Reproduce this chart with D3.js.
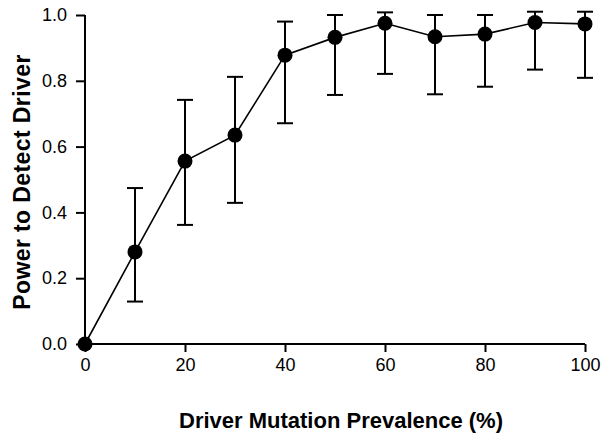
<!DOCTYPE html>
<html>
<head>
<meta charset="utf-8">
<script src="https://cdn.jsdelivr.net/npm/d3@7"></script>
<style>
  body { margin: 0; background: #fff; }
  svg text { font-family: "Liberation Sans", Arial, sans-serif; fill: #000; }
</style>
</head>
<body>
<svg width="602" height="434"></svg>
<script>
const prevalence = [0, 10, 20, 30, 40, 50, 60, 70, 80, 90, 100];
const power = [0, 0.28, 0.556, 0.635, 0.878, 0.932, 0.975, 0.934, 0.942, 0.977, 0.973];
const upper = [0, 0.474, 0.742, 0.812, 0.98, 1.0, 1.008, 1.0, 1.0, 1.01, 1.01];
const lower = [0, 0.129, 0.362, 0.429, 0.671, 0.757, 0.821, 0.759, 0.782, 0.834, 0.809];
const xTicks = [0, 20, 40, 60, 80, 100];
const yTicks = [0, 0.2, 0.4, 0.6, 0.8, 1.0];

const svg = d3.select('svg');
const x = d3.scaleLinear().domain([0, 100]).range([85, 585]);
const y = d3.scaleLinear().domain([0, 1]).range([344, 15]);

const pts = prevalence.map((p, i) => ({p, v: power[i], hi: upper[i], lo: lower[i]}));

// axes
const xAxis = svg.append('g').attr('transform', 'translate(0,344)')
  .call(d3.axisBottom(x).tickValues(xTicks).tickSize(8).tickPadding(6).tickFormat(d3.format('d')));
const yAxis = svg.append('g').attr('transform', 'translate(85,0)')
  .call(d3.axisLeft(y).tickValues(yTicks).tickSize(9).tickPadding(9).tickFormat(d3.format('.1f')));

[xAxis, yAxis].forEach(a => {
  a.select('.domain').attr('stroke', '#000').attr('stroke-width', 2);
  a.selectAll('.tick line').attr('stroke', '#000').attr('stroke-width', 2);
  a.selectAll('.tick text').style('font-size', '18px').attr('fill', '#000');
});
xAxis.select('.domain').attr('d', 'M85,0H585');
yAxis.select('.domain').attr('d', 'M0,15V344');

// error bars
const eb = svg.append('g').attr('stroke', '#000').attr('stroke-width', 2)
  .selectAll('g').data(pts.filter(d => d.p > 0)).enter().append('g');
eb.append('line').attr('x1', d => x(d.p)).attr('x2', d => x(d.p))
  .attr('y1', d => y(d.hi)).attr('y2', d => y(d.lo));
eb.append('line').attr('x1', d => x(d.p) - 8).attr('x2', d => x(d.p) + 8)
  .attr('y1', d => y(d.hi)).attr('y2', d => y(d.hi));
eb.append('line').attr('x1', d => x(d.p) - 8).attr('x2', d => x(d.p) + 8)
  .attr('y1', d => y(d.lo)).attr('y2', d => y(d.lo));

// connecting line
svg.append('path').datum(pts)
  .attr('fill', 'none').attr('stroke', '#000').attr('stroke-width', 1.6)
  .attr('d', d3.line().x(d => x(d.p)).y(d => y(d.v)));

svg.append('g').selectAll('circle').data(pts).enter().append('circle')
  .attr('cx', d => x(d.p)).attr('cy', d => y(d.v)).attr('r', 7.5).attr('fill', '#000');

// titles
svg.append('text').attr('x', 341).attr('y', 428).attr('text-anchor', 'middle')
  .style('font-size', '22px').style('font-weight', 'bold')
  .text('Driver Mutation Prevalence (%)');
svg.append('text').attr('transform', 'translate(30,182) rotate(-90)').attr('text-anchor', 'middle')
  .style('font-size', '23px').style('font-weight', 'bold').style('letter-spacing', '0.4px')
  .text('Power to Detect Driver');
</script>
</body>
</html>
